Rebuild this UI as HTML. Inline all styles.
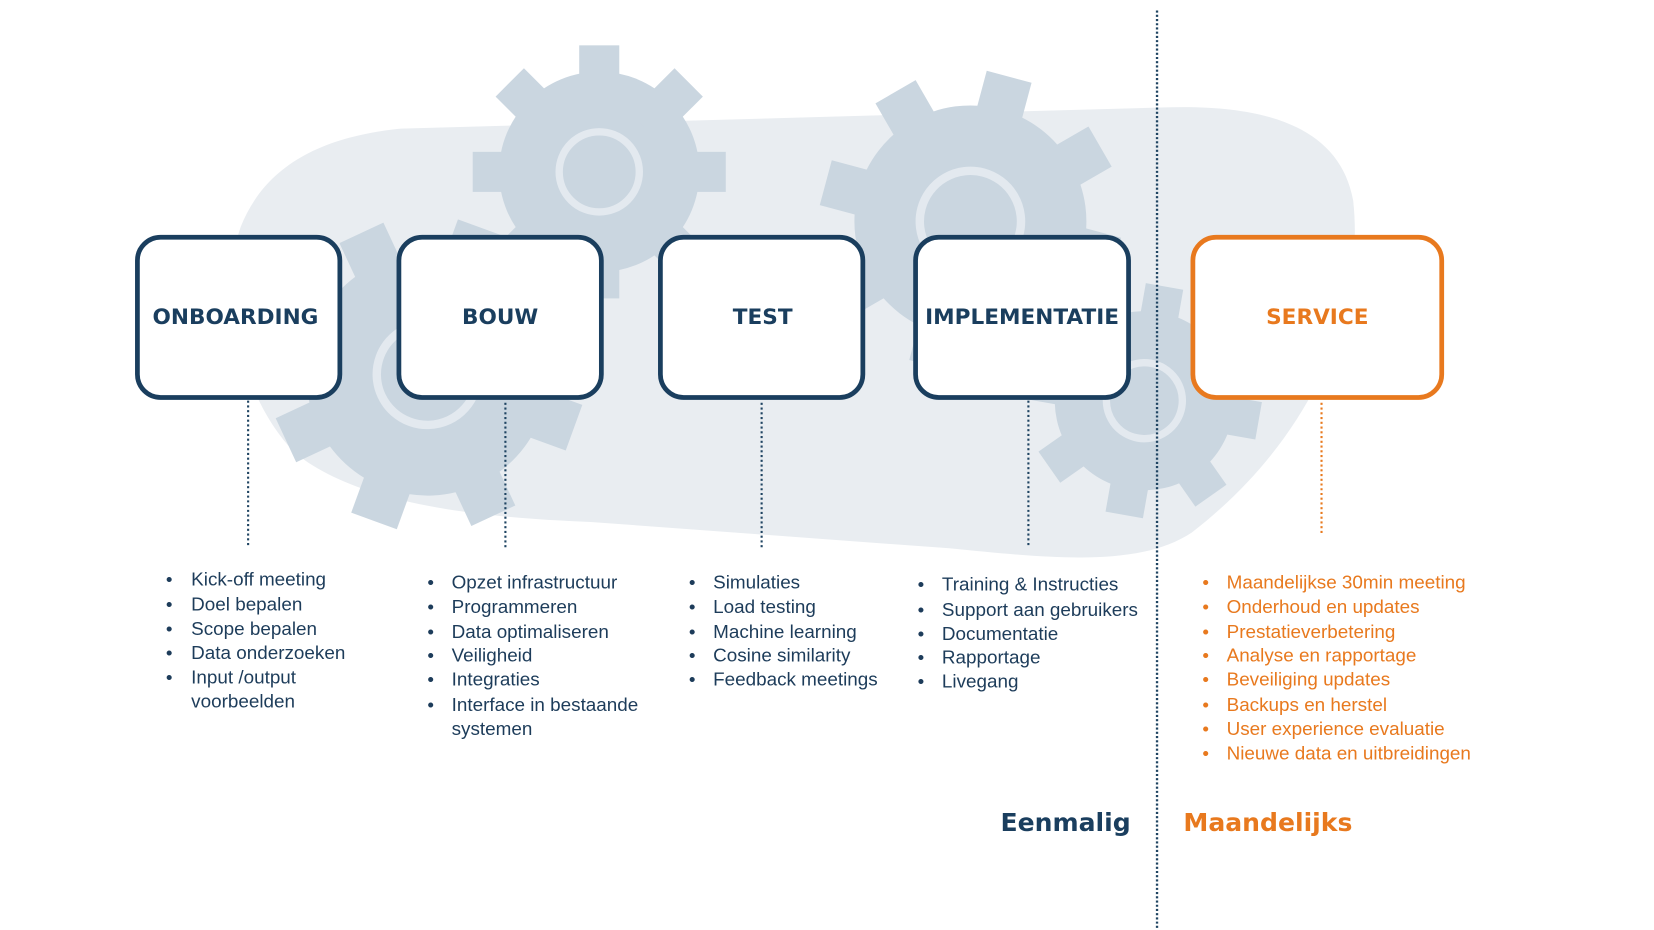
<!DOCTYPE html>
<html><head><meta charset="utf-8"><style>
html,body{margin:0;padding:0;background:#fff;width:1654px;height:930px;overflow:hidden}
svg{display:block}
.li{font-family:"Liberation Sans",sans-serif;font-size:17.9px;fill:#1d3c5a}
.lo{font-family:"Liberation Sans",sans-serif;font-size:17.9px;fill:#e8791e}
.bx{font-family:"DejaVu Sans",sans-serif;font-weight:bold;font-size:20.5px;fill:#1a3e5e}
</style></head><body>
<svg width="1654" height="930" viewBox="0 0 1568 882" xmlns="http://www.w3.org/2000/svg">
<!-- blob -->
<path d="M228,215 C250,160 300,130 380,122 L1100,102 C1200,98 1270,120 1283,190 C1295,300 1240,420 1130,505 C1080,538 1000,530 900,520 L560,495 C420,490 330,470 280,430 C230,380 205,280 228,215 Z" fill="#e9edf1"/>
<!-- gears -->
<g fill="#cad6e0">
 <g transform="translate(568,163)">
  <circle r="95"/>
  <g><rect x="-19" y="-120" width="38" height="60"/><rect x="-19" y="-120" width="38" height="60" transform="rotate(45)"/><rect x="-19" y="-120" width="38" height="60" transform="rotate(90)"/><rect x="-19" y="-120" width="38" height="60" transform="rotate(135)"/><rect x="-19" y="-120" width="38" height="60" transform="rotate(180)"/><rect x="-19" y="-120" width="38" height="60" transform="rotate(225)"/><rect x="-19" y="-120" width="38" height="60" transform="rotate(270)"/><rect x="-19" y="-120" width="38" height="60" transform="rotate(315)"/></g>
  <circle r="38" fill="none" stroke="#e3e9ef" stroke-width="7"/>
 </g>
 <g transform="translate(405,355) rotate(20)">
  <circle r="115"/>
  <g><rect x="-23" y="-148" width="46" height="60"/><rect x="-23" y="-148" width="46" height="60" transform="rotate(45)"/><rect x="-23" y="-148" width="46" height="60" transform="rotate(90)"/><rect x="-23" y="-148" width="46" height="60" transform="rotate(135)"/><rect x="-23" y="-148" width="46" height="60" transform="rotate(180)"/><rect x="-23" y="-148" width="46" height="60" transform="rotate(225)"/><rect x="-23" y="-148" width="46" height="60" transform="rotate(270)"/><rect x="-23" y="-148" width="46" height="60" transform="rotate(315)"/></g>
  <circle r="48" fill="none" stroke="#e3e9ef" stroke-width="8"/>
 </g>
 <g transform="translate(920,210) rotate(15)">
  <circle r="110"/>
  <g><rect x="-22" y="-142" width="44" height="60"/><rect x="-22" y="-142" width="44" height="60" transform="rotate(45)"/><rect x="-22" y="-142" width="44" height="60" transform="rotate(90)"/><rect x="-22" y="-142" width="44" height="60" transform="rotate(135)"/><rect x="-22" y="-142" width="44" height="60" transform="rotate(180)"/><rect x="-22" y="-142" width="44" height="60" transform="rotate(225)"/><rect x="-22" y="-142" width="44" height="60" transform="rotate(270)"/><rect x="-22" y="-142" width="44" height="60" transform="rotate(315)"/></g>
  <circle r="48" fill="none" stroke="#e3e9ef" stroke-width="8"/>
 </g>
 <g transform="translate(1085,380) rotate(10)">
  <circle r="85"/>
  <g><rect x="-18" y="-110" width="36" height="50"/><rect x="-18" y="-110" width="36" height="50" transform="rotate(45)"/><rect x="-18" y="-110" width="36" height="50" transform="rotate(90)"/><rect x="-18" y="-110" width="36" height="50" transform="rotate(135)"/><rect x="-18" y="-110" width="36" height="50" transform="rotate(180)"/><rect x="-18" y="-110" width="36" height="50" transform="rotate(225)"/><rect x="-18" y="-110" width="36" height="50" transform="rotate(270)"/><rect x="-18" y="-110" width="36" height="50" transform="rotate(315)"/></g>
  <circle r="36" fill="none" stroke="#e3e9ef" stroke-width="7"/>
 </g>
</g>
<!-- divider -->
<line x1="1097" y1="10" x2="1097" y2="882" stroke="#1f4462" stroke-width="2.2" stroke-dasharray="2 2"/>
<!-- connectors -->
<g stroke="#1f4462" stroke-width="2" stroke-dasharray="2 2.5">
<line x1="235" y1="380" x2="235" y2="518"/>
<line x1="479" y1="382" x2="479" y2="520"/>
<line x1="722" y1="382" x2="722" y2="520"/>
<line x1="975" y1="380" x2="975" y2="518"/>
</g>
<line x1="1253" y1="382" x2="1253" y2="508" stroke="#e8791e" stroke-width="2" stroke-dasharray="2 2.5"/>
<!-- boxes -->
<g fill="#fff" stroke="#1a3e5e" stroke-width="4.5">
<rect x="130" y="225" width="192" height="152" rx="22"/>
<rect x="378" y="225" width="192" height="152" rx="22"/>
<rect x="626" y="225" width="192" height="152" rx="22"/>
<rect x="868" y="225" width="202" height="152" rx="22"/>
</g>
<rect x="1131" y="225" width="236" height="152" rx="22" fill="#fff" stroke="#e8791e" stroke-width="4.5"/>
<g class="bx" text-anchor="middle" dominant-baseline="central">
<text x="223" y="301">ONBOARDING</text>
<text x="474" y="301">BOUW</text>
<text x="723" y="301">TEST</text>
<text x="969" y="301">IMPLEMENTATIE</text>
<text x="1249" y="301" style="fill:#e8791e">SERVICE</text>
</g>
<!-- lists -->
<g class="li" dominant-baseline="central">
<text x="157" y="549">•</text><text x="181" y="549">Kick-off meeting</text>
<text x="157" y="573">•</text><text x="181" y="573">Doel bepalen</text>
<text x="157" y="596">•</text><text x="181" y="596">Scope bepalen</text>
<text x="157" y="619">•</text><text x="181" y="619">Data onderzoeken</text>
<text x="157" y="642">•</text><text x="181" y="642">Input /output</text>
<text x="181" y="665">voorbeelden</text>

<text x="405" y="552">•</text><text x="428" y="552">Opzet infrastructuur</text>
<text x="405" y="575">•</text><text x="428" y="575">Programmeren</text>
<text x="405" y="599">•</text><text x="428" y="599">Data optimaliseren</text>
<text x="405" y="621">•</text><text x="428" y="621">Veiligheid</text>
<text x="405" y="644">•</text><text x="428" y="644">Integraties</text>
<text x="405" y="668">•</text><text x="428" y="668">Interface in bestaande</text>
<text x="428" y="691">systemen</text>

<text x="653" y="552">•</text><text x="676" y="552">Simulaties</text>
<text x="653" y="575">•</text><text x="676" y="575">Load testing</text>
<text x="653" y="599">•</text><text x="676" y="599">Machine learning</text>
<text x="653" y="621">•</text><text x="676" y="621">Cosine similarity</text>
<text x="653" y="644">•</text><text x="676" y="644">Feedback meetings</text>

<text x="870" y="554">•</text><text x="893" y="554">Training &amp; Instructies</text>
<text x="870" y="578">•</text><text x="893" y="578">Support aan gebruikers</text>
<text x="870" y="601">•</text><text x="893" y="601">Documentatie</text>
<text x="870" y="623">•</text><text x="893" y="623">Rapportage</text>
<text x="870" y="646">•</text><text x="893" y="646">Livegang</text>
</g>
<g class="lo" dominant-baseline="central">
<text x="1140" y="552">•</text><text x="1163" y="552">Maandelijkse 30min meeting</text>
<text x="1140" y="575">•</text><text x="1163" y="575">Onderhoud en updates</text>
<text x="1140" y="599">•</text><text x="1163" y="599">Prestatieverbetering</text>
<text x="1140" y="621">•</text><text x="1163" y="621">Analyse en rapportage</text>
<text x="1140" y="644">•</text><text x="1163" y="644">Beveiliging updates</text>
<text x="1140" y="668">•</text><text x="1163" y="668">Backups en herstel</text>
<text x="1140" y="691">•</text><text x="1163" y="691">User experience evaluatie</text>
<text x="1140" y="714">•</text><text x="1163" y="714">Nieuwe data en uitbreidingen</text>
</g>
<text x="1072" y="780" text-anchor="end" dominant-baseline="central" style="font-family:'DejaVu Sans',sans-serif;font-weight:bold;font-size:23.8px;fill:#1a3e5e">Eenmalig</text>
<text x="1122" y="780" dominant-baseline="central" style="font-family:'DejaVu Sans',sans-serif;font-weight:bold;font-size:23.8px;fill:#e8791e">Maandelijks</text>
</svg>
</body></html>
